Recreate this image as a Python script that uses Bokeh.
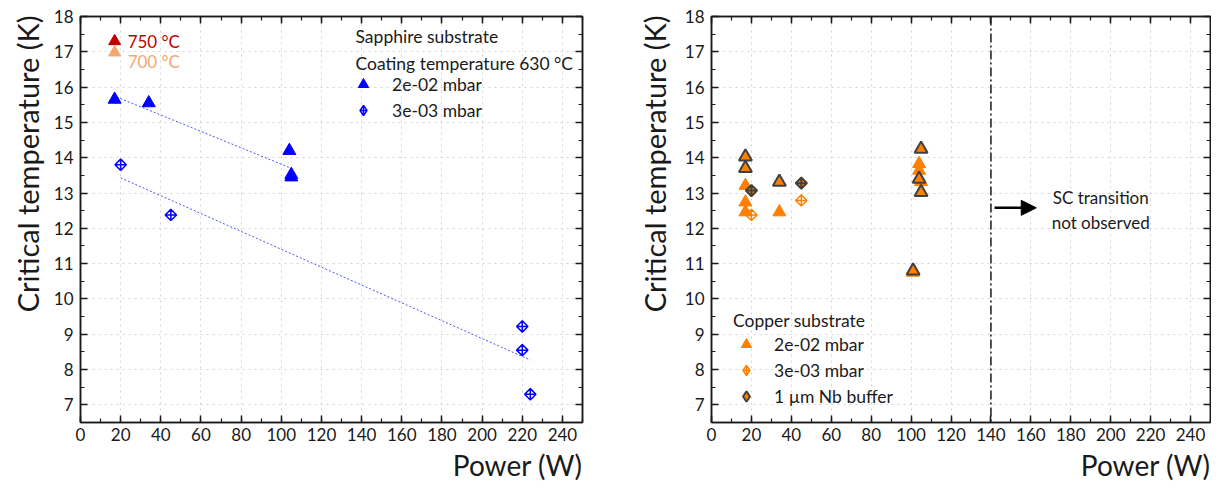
import math
from bokeh.plotting import figure
from bokeh.models import (Range1d, SingleIntervalTicker, LinearAxis, Legend, LegendItem,
                          Title, Span, Arrow, NormalHead, Label)
from bokeh.layouts import row
from bokeh.embed import file_html
from bokeh.resources import INLINE
from bokeh.core.properties import value

FONT = "Lato"
TXT = "#1a1a1a"
NAN = float("nan")

# ---------------- data: sapphire substrate (left) ----------------
sap_hi_power = [17, 34, 104, 105, 105]
sap_hi_tc = [15.65, 15.55, 14.2, 13.52, 13.45]
sap_lo_power = [20, 45, 220, 220, 224]
sap_lo_tc = [13.8, 12.38, 9.22, 8.55, 7.3]
fit_hi_power = [18, 105]
fit_hi_tc = [15.72, 13.7]
fit_lo_power = [20, 224]
fit_lo_tc = [13.43, 8.27]
temp_power = [17, 17]
temp_tc = [17.3, 16.98]
temp_labels = ["750 °C", "700 °C"]
temp_colors = ["#c00000", "#f4a871"]
sap_titles = ["Sapphire substrate", "Coating temperature 630 °C"]

# ---------------- data: copper substrate (right) ----------------
cu_hi_power = [17, 17, 17, 34, 104, 104, 105, 101]
cu_hi_tc = [13.21, 12.74, 12.46, 12.46, 13.83, 13.64, 13.32, 10.75]
cu_lo_power = [20, 45]
cu_lo_tc = [12.38, 12.79]
nb_tri_power = [17, 17, 34, 105, 104, 105, 101]
nb_tri_tc = [14.03, 13.7, 13.31, 14.25, 13.4, 13.02, 10.8]
nb_dia_power = [20, 45]
nb_dia_tc = [13.07, 13.28]
sc_limit_power = 140
sc_text = ["SC transition", "not observed"]
sc_text_power = [195, 195]
sc_text_tc = [12.86, 12.17]
arrow_power = [141.8, 162.7]
arrow_tc = 12.58

x_ticks_interval = 20
y_ticks_interval = 1

BLUE = "#0000ff"
ORANGE = "#ff8000"
DARK = "#404040"
LEG_FS = "17.5px"


def make_fig(min_left, frame_w, min_right, ylab_standoff):
    p = figure(frame_width=frame_w, frame_height=406, min_border_left=min_left,
               min_border_right=min_right, min_border_top=16, min_border_bottom=66,
               x_range=Range1d(0, 250), y_range=Range1d(6.5, 18),
               output_backend="svg", toolbar_location=None)
    p.outline_line_color = "#1a1a1a"
    p.outline_line_width = 1.5
    xt = SingleIntervalTicker(interval=x_ticks_interval, num_minor_ticks=2)
    yt = SingleIntervalTicker(interval=y_ticks_interval, num_minor_ticks=2)
    p.xaxis.ticker = xt
    p.yaxis.ticker = yt
    p.add_layout(LinearAxis(ticker=xt), "above")
    p.add_layout(LinearAxis(ticker=yt), "right")
    for ax in p.axis:
        ax.major_tick_in = 7
        ax.major_tick_out = 0
        ax.minor_tick_in = 4
        ax.minor_tick_out = 0
        ax.axis_line_color = "#1a1a1a"
        ax.axis_line_width = 1.5
        ax.major_tick_line_color = "#1a1a1a"
        ax.major_tick_line_width = 1.5
        ax.minor_tick_line_color = "#1a1a1a"
        ax.minor_tick_line_width = 1.2
        ax.major_label_text_font = FONT
        ax.major_label_text_font_size = "17px"
        ax.major_label_text_color = TXT
    for ax in p.above + p.right:
        if isinstance(ax, LinearAxis):
            ax.major_label_text_font_size = "0px"
            ax.major_label_standoff = 0
    p.xaxis[0].major_label_standoff = 9
    p.yaxis[0].major_label_standoff = 7
    for g in (p.xgrid, p.ygrid):
        g.grid_line_color = "#d4d4d4"
        g.grid_line_dash = "dotted"
        g.grid_line_width = 1
    p.xgrid.ticker = xt
    p.ygrid.ticker = yt
    p.add_layout(Title(text="Critical temperature (K)", align="right", offset=-1,
                       text_font=FONT, text_font_size="29px", text_font_style="normal",
                       text_color=TXT, standoff=ylab_standoff), "left")
    p.add_layout(Title(text="Power (W)", align="right", offset=0,
                       text_font=FONT, text_font_size="28px", text_font_style="normal",
                       text_color=TXT, standoff=4), "below")
    return p


def style_legend(leg):
    leg.border_line_color = None
    leg.background_fill_alpha = 0
    leg.padding = 0
    leg.margin = 0
    leg.spacing = 0
    leg.glyph_width = 26
    leg.glyph_height = 26
    leg.label_height = 26
    leg.label_text_font = FONT
    leg.label_text_font_size = LEG_FS
    leg.label_text_color = TXT
    leg.title_text_font = FONT
    leg.title_text_font_size = LEG_FS
    leg.title_text_font_style = "normal"
    leg.title_text_color = TXT


# ---------------- left figure ----------------
p1 = make_fig(80, 502, 20, 12)
p1.line(fit_hi_power, fit_hi_tc, line_color="#5050ff", line_dash="2 2", line_width=1)
p1.line(fit_lo_power, fit_lo_tc, line_color="#5050ff", line_dash="2 2", line_width=1)
r_hi = p1.scatter(sap_hi_power, sap_hi_tc, marker="triangle", size=13,
                  fill_color=BLUE, line_color=BLUE, line_width=1)
p1.scatter(sap_lo_power, sap_lo_tc, marker="square_x", angle=math.pi / 4, size=8,
           fill_alpha=0, line_color=BLUE, line_width=1.5)
p1.scatter(temp_power, temp_tc, marker="triangle", size=12,
           fill_color=temp_colors, line_color=temp_colors)
p1.text(temp_power, temp_tc, text=temp_labels, text_color=temp_colors, x_offset=13,
        y_offset=[0, 9], text_baseline="middle", text_font=value(FONT), text_font_size="17px")
# legend key only (no data point)
r_lo_leg = p1.scatter([NAN], [NAN], marker="diamond_cross", size=12,
                      fill_alpha=0, line_color=BLUE, line_width=1.5)
leg1 = Legend(items=[LegendItem(label="2e-02 mbar", renderers=[r_hi]),
                     LegendItem(label="3e-03 mbar", renderers=[r_lo_leg])],
              location=(270, 299))
style_legend(leg1)
leg1.label_standoff = 16
p1.add_layout(leg1)
for i, t in enumerate(sap_titles):
    p1.add_layout(Label(x=275, y=386 - 26.6 * i, x_units="screen", y_units="screen", text=t,
                        text_baseline="middle", text_font=FONT, text_font_size=LEG_FS,
                        text_color=TXT))

# ---------------- right figure ----------------
p2 = make_fig(109, 499, 1, 19)
r_cu_hi = p2.scatter(cu_hi_power, cu_hi_tc, marker="triangle", size=13,
                     fill_color=ORANGE, line_color=ORANGE, line_width=1)
p2.scatter(cu_lo_power, cu_lo_tc, marker="square_x", angle=math.pi / 4, size=8,
           fill_alpha=0, line_color=ORANGE, line_width=1.5)
p2.scatter(nb_tri_power, nb_tri_tc, marker="triangle", size=13,
           fill_color=ORANGE, line_color=DARK, line_width=2)
p2.scatter(nb_dia_power, nb_dia_tc, marker="square_x", angle=math.pi / 4, size=8,
           fill_color=ORANGE, line_color=DARK, line_width=2)
# legend keys only (no data point)
r_cu_lo_leg = p2.scatter([NAN], [NAN], marker="diamond_cross", size=12,
                         fill_alpha=0, line_color=ORANGE, line_width=1.5)
r_nb_leg = p2.scatter([NAN], [NAN], marker="diamond", size=12,
                      fill_color=ORANGE, line_color=DARK, line_width=2)
p2.add_layout(Span(location=sc_limit_power, dimension="height", line_color="#1a1a1a",
                   line_dash="9 3 2 3", line_width=1.5))
p2.add_layout(Arrow(x_start=arrow_power[0], y_start=arrow_tc, x_end=arrow_power[1], y_end=arrow_tc,
                    line_width=2.5, line_color="black",
                    end=NormalHead(size=15, fill_color="black", line_color="black")))
p2.text(sc_text_power, sc_text_tc, text=sc_text, text_align="center", text_baseline="middle",
        text_color=TXT, text_font=value(FONT), text_font_size="17px")
leg2 = Legend(items=[LegendItem(label="2e-02 mbar", renderers=[r_cu_hi]),
                     LegendItem(label="3e-03 mbar", renderers=[r_cu_lo_leg]),
                     LegendItem(label="1 µm Nb buffer", renderers=[r_nb_leg])],
              title="Copper substrate", location=(22, 13))
style_legend(leg2)
leg2.label_standoff = 15
leg2.title_standoff = 0
p2.add_layout(leg2)

layout = row(p1, p2)
layout.spacing = 0
open("out.html", "w").write(file_html(layout, INLINE))
